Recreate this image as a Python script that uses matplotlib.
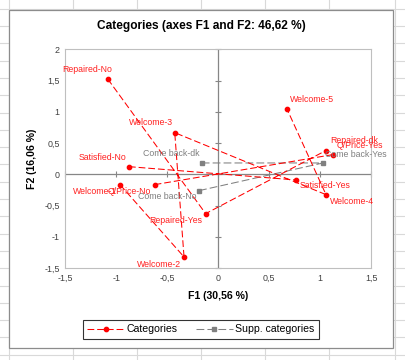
import numpy as np
import matplotlib
matplotlib.use("Agg")
import matplotlib.pyplot as plt
from matplotlib.lines import Line2D
from matplotlib.patches import Rectangle

plt.rcParams['font.family'] = ['Liberation Sans', 'DejaVu Sans']

# ---------------- data ----------------
title = "Categories (axes F1 and F2: 46,62 %)"
xlabel = "F1 (30,56 %)"
ylabel = "F2 (16,06 %)"

qprice_labels = ["Q/Price-No", "Q/Price-Yes"]
qprice_f1 = [-0.624, 1.121]
qprice_f2 = [-0.166, 0.314]

repaired_labels = ["Repaired-No", "Repaired-Yes", "Repaired-dk"]
repaired_f1 = [-1.084, -0.124, 1.053]
repaired_f2 = [1.525, -0.630, 0.378]

satisfied_labels = ["Satisfied-No", "Satisfied-Yes"]
satisfied_f1 = [-0.876, 0.758]
satisfied_f2 = [0.122, -0.091]

welcome_labels = ["Welcome-1", "Welcome-2", "Welcome-3", "Welcome-4", "Welcome-5"]
welcome_f1 = [-0.964, -0.336, -0.427, 1.056, 0.673]
welcome_f2 = [-0.166, -1.323, 0.666, -0.326, 1.045]

comeback_labels = ["Come back-No", "Come back-Yes", "Come back-dk"]
comeback_f1 = [-0.189, 1.027, -0.163]
comeback_f2 = [-0.262, 0.181, 0.181]

xticks = [-1.5, -1, -0.5, 0, 0.5, 1, 1.5]
yticks = [-1.5, -1, -0.5, 0, 0.5, 1, 1.5, 2]
xtick_labels = ["-1,5", "-1", "-0,5", "0", "0,5", "1", "1,5"]
ytick_labels = ["-1,5", "-1", "-0,5", "0", "0,5", "1", "1,5", "2"]

# label placement (pixels): ha, dx, dy(down positive)
label_pos = {
    "Repaired-No": ("center", -21, -9),
    "Welcome-3": ("right", -2, -10),
    "Satisfied-No": ("right", -3, -8.7),
    "Come back-dk": ("right", -2.4, -9.7),
    "Welcome-1": ("right", -3, 7),
    "Q/Price-No": ("right", -3.7, 7),
    "Come back-No": ("right", -3, 6),
    "Repaired-Yes": ("right", -3, 7.3),
    "Welcome-2": ("right", -3, 7.3),
    "Welcome-5": ("left", 3, -9.7),
    "Repaired-dk": ("left", 4.3, -10),
    "Q/Price-Yes": ("left", 4, -9.4),
    "Come back-Yes": ("left", 2, -8.7),
    "Satisfied-Yes": ("left", 4.3, 5.7),
    "Welcome-4": ("left", 4, 7.3),
}

RED = "#FF0000"
GREY = "#808080"
W, H = 405, 360

fig = plt.figure(figsize=(W / 100, H / 100), dpi=100)
fig.patch.set_facecolor("white")

# Excel sheet gridlines behind the chart
for yy in np.arange(8.7, H, 17.3):
    fig.add_artist(Line2D([0, 1], [1 - yy / H] * 2, color="#D9D9D9", lw=0.8, zorder=0))
for xx in [9, 73, 137, 201, 265, 329, 394.5]:
    fig.add_artist(Line2D([xx / W] * 2, [0, 1], color="#D9D9D9", lw=0.8, zorder=0))
# chart frame
fig.add_artist(Rectangle((9 / W, 1 - 348 / H), (393 - 9) / W, (348 - 10) / H,
                         transform=fig.transFigure, facecolor="white",
                         edgecolor="#8C8C8C", lw=0.9, zorder=1))

ax = fig.add_axes([65.3 / W, 1 - 268 / H, (371.3 - 65.3) / W, (268 - 49.3) / H])
ax.set_zorder(2)
ax.set_xlim(-1.5, 1.5)
ax.set_ylim(-1.5, 2)
for s in ax.spines.values():
    s.set_color("#BFBFBF")
    s.set_linewidth(0.8)
ax.set_xticks(xticks)
ax.set_xticklabels(xtick_labels)
ax.set_yticks(yticks)
ax.set_yticklabels(ytick_labels)
ax.tick_params(length=0, labelsize=6.4, colors="#404040", pad=4)

# zero axes with cross tick marks
ax.axhline(0, color="#868686", lw=0.9, zorder=1)
ax.axvline(0, color="#868686", lw=0.9, zorder=1)
ax.plot(np.zeros(len(yticks)), yticks, ls="none", marker="_", ms=5, mew=0.8,
        color="#868686", zorder=1, clip_on=False)
ax.plot(xticks, np.zeros(len(xticks)), ls="none", marker="|", ms=5, mew=0.8,
        color="#868686", zorder=1, clip_on=False)

# categories (each variable connected, gaps between variables)
groups = [(qprice_labels, qprice_f1, qprice_f2),
          (repaired_labels, repaired_f1, repaired_f2),
          (satisfied_labels, satisfied_f1, satisfied_f2),
          (welcome_labels, welcome_f1, welcome_f2)]
cx, cy, cl = [], [], []
for labs, xs, ys in groups:
    cx += list(xs) + [np.nan]
    cy += list(ys) + [np.nan]
    cl += list(labs)
ax.plot(cx, cy, color=RED, lw=0.75, ls=(0, (6.5, 2.8)), marker="o", ms=3.1,
        mec=RED, mfc=RED, label="Categories", zorder=4)
ax.plot(comeback_f1, comeback_f2, color=GREY, lw=0.75, ls=(0, (7.5, 3)),
        marker="s", ms=3.0, mec=GREY, mfc=GREY, label="Supp. categories", zorder=3)

def put_labels(labs, xs, ys, color):
    for lab, x, y in zip(labs, xs, ys):
        ha, dx, dy = label_pos[lab]
        ax.annotate(lab, (x, y), xytext=(dx * 0.72, -dy * 0.72),
                    textcoords="offset points", ha=ha, va="center",
                    fontsize=6.3, color=color, zorder=5)

for labs, xs, ys in groups:
    put_labels(labs, xs, ys, "#FF2020")
put_labels(comeback_labels, comeback_f1, comeback_f2, "#7F7F7F")

fig.text(0.5 * (9 + 393) / W, 1 - 26 / H, title, ha="center", va="center",
         fontsize=8.6, fontweight="bold", color="black")
fig.text(218.3 / W, 1 - 296 / H, xlabel, ha="center", va="center",
         fontsize=7.6, fontweight="bold", color="black")
fig.text(32 / W, 1 - 158.7 / H, ylabel, ha="center", va="center", rotation=90,
         fontsize=7.6, fontweight="bold", color="black")

leg = fig.legend(loc="center", bbox_to_anchor=(201 / W, 1 - 329.3 / H), ncol=2,
                 fontsize=7.6, frameon=True, fancybox=False, handlelength=3.5,
                 handletextpad=0.25, columnspacing=1.7, borderpad=0.45,
                 numpoints=1)
leg.get_frame().set_edgecolor("black")
leg.get_frame().set_linewidth(0.8)
leg.set_zorder(3)

fig.savefig("out.png", dpi=100)
